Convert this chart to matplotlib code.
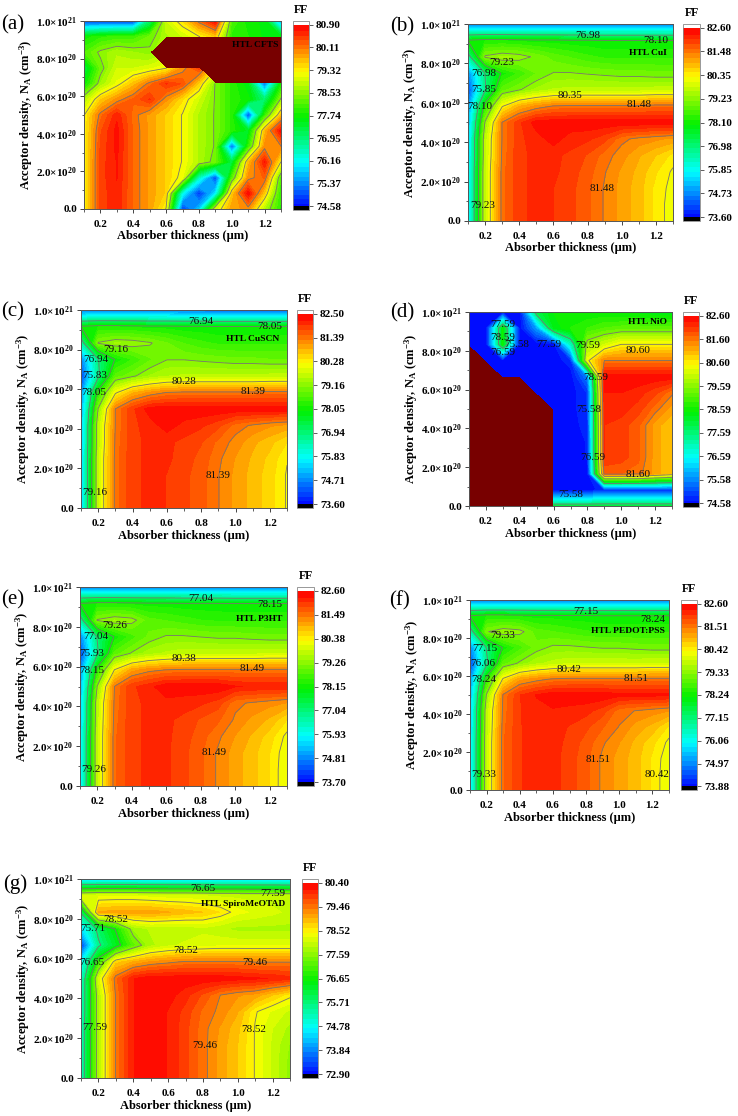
import numpy as np
import matplotlib
matplotlib.use('Agg')
import matplotlib.pyplot as plt
from matplotlib.colors import LinearSegmentedColormap

plt.rcParams['font.family'] = ['Liberation Serif', 'DejaVu Serif']
plt.rcParams['mathtext.fontset'] = 'custom'
plt.rcParams['mathtext.rm'] = 'Liberation Serif:bold'
plt.rcParams['mathtext.default'] = 'rm'

W, H = 738, 1116
nan = np.nan

thickness = [0.1, 0.2, 0.3, 0.4, 0.5, 0.6, 0.7, 0.8, 0.9, 1.0, 1.1, 1.2, 1.3]
# acceptor density in units of 1e20
density = [0.0, 0.8333, 1.6667, 2.5, 3.3333, 4.1667, 5.0, 5.8333, 6.6667, 7.5, 8.3333, 9.1667, 10.0]

# FF tables, first row is the lowest density
ff_a = [
    [79.3, 80.5, 80.7, 80.25, 79.9, 79.3, 74.9, 75.8, 79.0, 79.9, 80.0, 78.8, 78.0],
    [79.3, 80.5, 80.7, 80.25, 79.9, 79.6, 76.2, 74.9, 76.0, 79.6, 80.85, 79.6, 78.0],
    [79.3, 80.5, 80.75, 80.25, 79.9, 79.6, 79.2, 76.5, 75.0, 78.2, 80.0, 80.3, 78.2],
    [79.3, 80.5, 80.75, 80.25, 79.9, 79.6, 79.3, 78.8, 78.4, 77.3, 79.7, 80.75, 79.3],
    [79.3, 80.45, 80.8, 80.25, 79.9, 79.6, 79.3, 78.8, 78.5, 75.2, 78.0, 80.0, 80.1],
    [79.3, 80.4, 80.8, 80.25, 79.9, 79.6, 79.3, 78.8, 78.5, 78.0, 77.5, 79.7, 80.85],
    [79.3, 80.2, 80.7, 80.2, 79.9, 79.6, 79.3, 78.8, 78.5, 78.0, 75.0, 78.0, 79.7],
    [78.8, 79.6, 80.0, 80.3, 80.6, 80.0, 79.5, 79.0, 78.5, 78.0, 77.8, 77.0, 78.6],
    [77.7, 78.7, 79.2, 79.7, 80.2, 80.6, 80.4, 79.6, 78.5, 78.0, 77.6, 75.3, 77.8],
    [77.3, 78.4, 79.0, 79.0, 79.1, 79.3, 80.0, 80.5, nan, nan, nan, nan, nan],
    [78.2, 78.6, 78.8, 78.7, 78.6, nan, nan, nan, nan, nan, nan, nan, nan],
    [77.8, 78.0, 78.1, 78.1, 78.4, 78.8, 79.0, 79.3, 79.6, 78.0, 77.9, 77.7, 77.7],
    [74.9, 74.9, 74.9, 74.9, 77.0, 79.0, 79.5, 80.2, 80.88, 78.2, 77.8, 77.7, 75.5],
]
ff_b = [
    [75.4, 79.8, 81.6, 82.1, 82.2, 82.15, 82.0, 81.75, 81.45, 81.15, 80.9, 80.5, 80.2],
    [75.4, 79.8, 81.6, 82.1, 82.2, 82.15, 82.0, 81.75, 81.45, 81.15, 80.9, 80.5, 80.2],
    [75.4, 79.8, 81.6, 82.1, 82.2, 82.15, 82.0, 81.75, 81.45, 81.15, 80.9, 80.5, 80.25],
    [75.4, 79.8, 81.6, 82.1, 82.2, 82.2, 82.05, 81.8, 81.5, 81.2, 80.95, 80.6, 80.3],
    [75.3, 79.7, 81.55, 82.1, 82.2, 82.2, 82.1, 81.9, 81.6, 81.35, 81.05, 80.8, 80.5],
    [75.3, 79.7, 81.5, 82.1, 82.25, 82.5, 82.25, 82.2, 82.0, 81.55, 81.4, 81.3, 81.2],
    [75.1, 79.3, 81.5, 82.1, 82.5, 82.55, 82.55, 82.55, 82.55, 82.55, 82.55, 82.55, 82.55],
    [74.9, 78.4, 80.3, 81.0, 81.3, 81.5, 81.55, 81.55, 81.55, 81.55, 81.55, 81.6, 81.6],
    [74.2, 76.9, 78.9, 79.2, 79.5, 79.7, 79.75, 79.75, 79.75, 79.75, 79.75, 79.8, 79.8],
    [74.8, 77.0, 78.2, 78.6, 79.0, 79.25, 79.25, 79.2, 79.15, 79.1, 79.1, 79.05, 79.05],
    [76.6, 79.3, 79.5, 79.4, 79.15, 78.9, 78.75, 78.6, 78.5, 78.5, 78.5, 78.5, 78.5],
    [78.15, 78.3, 78.3, 78.25, 78.2, 78.2, 78.15, 78.15, 78.1, 78.1, 78.1, 78.1, 78.1],
    [74.6, 74.6, 74.6, 74.6, 74.6, 74.6, 74.6, 74.6, 74.6, 74.6, 74.6, 74.6, 74.6],
]
ff_c = [
    [75.3, 79.7, 81.5, 82.0, 82.1, 82.05, 81.9, 81.7, 81.4, 81.1, 80.85, 80.6, 80.25],
    [75.3, 79.7, 81.5, 82.0, 82.1, 82.05, 81.9, 81.7, 81.4, 81.1, 80.85, 80.6, 80.25],
    [75.3, 79.7, 81.5, 82.0, 82.1, 82.05, 81.9, 81.7, 81.4, 81.1, 80.85, 80.6, 80.25],
    [75.3, 79.7, 81.5, 82.0, 82.1, 82.1, 81.95, 81.75, 81.45, 81.15, 80.9, 80.65, 80.3],
    [75.2, 79.6, 81.45, 82.0, 82.1, 82.1, 82.0, 81.85, 81.55, 81.3, 81.0, 80.8, 80.5],
    [75.2, 79.6, 81.4, 82.0, 82.15, 82.4, 82.2, 82.1, 81.9, 81.5, 81.35, 81.2, 81.1],
    [75.0, 79.2, 81.4, 82.0, 82.4, 82.45, 82.45, 82.45, 82.45, 82.45, 82.45, 82.45, 82.45],
    [74.8, 78.3, 80.2, 80.9, 81.2, 81.4, 81.45, 81.45, 81.45, 81.45, 81.45, 81.5, 81.5],
    [74.1, 76.8, 78.8, 79.1, 79.4, 79.6, 79.65, 79.65, 79.65, 79.65, 79.65, 79.7, 79.7],
    [74.7, 76.9, 78.1, 78.5, 78.9, 79.15, 79.15, 79.1, 79.05, 79.0, 79.0, 78.95, 78.95],
    [76.5, 79.2, 79.4, 79.35, 79.2, 78.95, 78.7, 78.55, 78.45, 78.45, 78.45, 78.45, 78.45],
    [78.1, 78.25, 78.25, 78.2, 78.15, 78.15, 78.1, 78.1, 78.05, 78.05, 78.05, 78.05, 78.05],
    [74.5, 74.5, 74.5, 74.5, 74.5, 74.5, 74.5, 74.5, 74.5, 74.5, 74.5, 74.5, 74.5],
]
ff_d = [
    [nan, nan, nan, nan, nan, 78.0, 78.0, 78.0, 78.0, 78.0, 78.0, 78.0, 78.0],
    [nan, nan, nan, nan, nan, 74.65, 74.65, 74.65, 74.9, 74.9, 74.9, 74.9, 74.9],
    [nan, nan, nan, nan, nan, 74.65, 74.65, 74.65, 81.8, 81.8, 81.7, 81.3, 81.0],
    [nan, nan, nan, nan, nan, 74.65, 74.65, 74.8, 82.2, 82.1, 81.85, 81.3, 81.0],
    [nan, nan, nan, nan, nan, 74.65, 74.65, 74.8, 82.2, 82.1, 81.85, 81.3, 81.0],
    [nan, nan, nan, nan, nan, 74.65, 74.65, 74.9, 82.2, 82.1, 81.85, 81.3, 81.0],
    [nan, nan, nan, nan, nan, 74.65, 74.65, 75.0, 82.3, 82.3, 82.1, 81.7, 81.3],
    [nan, nan, nan, nan, 74.65, 74.65, 74.65, 75.0, 82.4, 82.4, 82.3, 82.05, 81.65],
    [nan, nan, 74.65, 74.65, 74.65, 74.65, 74.65, 75.6, 82.55, 82.55, 82.55, 82.55, 82.55],
    [nan, 74.65, 74.65, 74.65, 74.65, 74.65, 74.9, 80.5, 81.6, 81.6, 81.6, 81.6, 81.6],
    [74.65, 74.65, 78.6, 74.65, 74.65, 74.65, 77.0, 79.8, 80.2, 80.6, 80.6, 80.6, 80.6],
    [74.65, 74.65, 78.6, 74.65, 75.8, 78.4, 78.8, 79.0, 79.2, 79.3, 79.3, 79.3, 79.3],
    [74.65, 74.65, 74.65, 74.65, 78.0, 78.6, 78.6, 78.6, 78.6, 78.5, 78.5, 78.4, 78.4],
]
ff_e = [
    [75.5, 79.8, 81.65, 82.1, 82.2, 82.2, 82.0, 81.75, 81.45, 81.15, 80.9, 80.6, 80.15],
    [75.5, 79.8, 81.65, 82.1, 82.2, 82.2, 82.0, 81.75, 81.45, 81.15, 80.9, 80.6, 80.15],
    [75.5, 79.8, 81.65, 82.1, 82.2, 82.2, 82.0, 81.75, 81.45, 81.15, 80.9, 80.6, 80.2],
    [75.5, 79.8, 81.65, 82.1, 82.2, 82.2, 82.05, 81.8, 81.55, 81.25, 81.0, 80.7, 80.3],
    [75.3, 79.75, 81.6, 82.1, 82.2, 82.2, 82.1, 81.9, 81.75, 81.45, 81.2, 81.0, 80.6],
    [75.3, 79.7, 81.55, 82.1, 82.2, 82.3, 82.25, 82.2, 82.05, 81.55, 81.45, 81.35, 81.25],
    [75.1, 79.3, 81.5, 82.1, 82.3, 82.55, 82.55, 82.55, 82.55, 82.4, 82.35, 82.35, 82.35],
    [74.9, 78.4, 80.4, 81.15, 81.4, 81.5, 81.55, 81.55, 81.55, 81.55, 81.55, 81.55, 81.55],
    [74.2, 76.9, 78.9, 79.3, 79.6, 79.75, 79.85, 79.85, 79.85, 79.85, 79.85, 79.9, 79.9],
    [74.8, 77.1, 78.2, 78.7, 79.1, 79.3, 79.3, 79.25, 79.2, 79.2, 79.15, 79.1, 79.1],
    [76.6, 79.3, 79.5, 79.4, 78.9, 78.8, 78.7, 78.6, 78.55, 78.55, 78.55, 78.55, 78.55],
    [78.2, 78.35, 78.35, 78.3, 78.25, 78.25, 78.2, 78.2, 78.2, 78.15, 78.15, 78.15, 78.15],
    [74.7, 74.7, 74.7, 74.7, 74.7, 74.7, 74.7, 74.7, 74.7, 74.7, 74.7, 74.7, 74.7],
]
ff_f = [
    [75.6, 79.85, 81.7, 82.15, 82.25, 82.25, 82.05, 81.8, 81.45, 81.2, 80.95, 80.6, 80.2],
    [75.6, 79.85, 81.7, 82.15, 82.25, 82.25, 82.05, 81.8, 81.45, 81.2, 80.95, 80.6, 80.2],
    [75.6, 79.85, 81.7, 82.15, 82.25, 82.25, 82.05, 81.8, 81.45, 81.2, 80.95, 80.6, 80.25],
    [75.6, 79.85, 81.7, 82.15, 82.25, 82.25, 82.1, 81.85, 81.55, 81.3, 81.0, 80.7, 80.35],
    [75.5, 79.8, 81.65, 82.15, 82.25, 82.25, 82.15, 82.0, 81.75, 81.5, 81.2, 81.0, 80.6],
    [75.5, 79.75, 81.6, 82.15, 82.3, 82.35, 82.3, 82.25, 82.05, 81.6, 81.5, 81.4, 81.3],
    [75.3, 79.4, 81.55, 82.15, 82.4, 82.55, 82.55, 82.55, 82.55, 82.45, 82.45, 82.45, 82.45],
    [75.1, 78.5, 80.5, 81.2, 81.4, 81.55, 81.6, 81.6, 81.6, 81.6, 81.6, 81.6, 81.6],
    [74.4, 77.0, 79.0, 79.4, 79.7, 79.85, 79.95, 79.95, 79.95, 79.95, 79.95, 80.0, 80.0],
    [75.0, 77.2, 78.3, 78.8, 79.2, 79.4, 79.4, 79.35, 79.3, 79.3, 79.25, 79.2, 79.2],
    [76.7, 79.3, 79.55, 79.45, 79.0, 78.9, 78.8, 78.7, 78.65, 78.65, 78.65, 78.65, 78.65],
    [78.3, 78.45, 78.45, 78.4, 78.35, 78.35, 78.3, 78.3, 78.25, 78.25, 78.25, 78.25, 78.25],
    [74.9, 74.9, 74.9, 74.9, 74.9, 74.9, 74.9, 74.9, 74.9, 74.9, 74.9, 74.9, 74.9],
]
ff_g = [
    [75.2, 77.9, 79.5, 80.2, 80.35, 80.2, 79.9, 79.55, 79.2, 78.9, 78.5, 78.1, 77.7],
    [75.2, 77.9, 79.5, 80.2, 80.35, 80.2, 79.9, 79.55, 79.2, 78.9, 78.5, 78.1, 77.7],
    [75.2, 77.9, 79.5, 80.2, 80.35, 80.2, 79.9, 79.55, 79.2, 78.9, 78.5, 78.1, 77.75],
    [75.2, 77.9, 79.5, 80.2, 80.35, 80.2, 79.9, 79.55, 79.25, 78.95, 78.5, 78.15, 77.9],
    [75.1, 77.9, 79.5, 80.2, 80.35, 80.2, 79.95, 79.6, 79.4, 79.1, 78.55, 78.3, 78.1],
    [75.1, 77.9, 79.5, 80.2, 80.35, 80.3, 80.1, 79.8, 79.46, 79.3, 79.2, 78.9, 78.6],
    [75.0, 78.2, 79.6, 80.2, 80.35, 80.35, 80.35, 80.35, 80.35, 80.3, 80.25, 80.2, 80.1],
    [74.7, 77.0, 78.8, 79.1, 79.3, 79.4, 79.5, 79.5, 79.5, 79.5, 79.45, 79.45, 79.45],
    [73.3, 75.6, 76.4, 77.3, 77.9, 78.1, 78.2, 78.25, 78.3, 78.3, 78.3, 78.3, 78.3],
    [74.5, 75.9, 76.7, 77.8, 78.0, 78.0, 78.0, 78.1, 78.0, 77.9, 77.9, 77.9, 77.9],
    [75.8, 79.1, 79.2, 79.2, 79.2, 79.1, 79.0, 78.9, 78.7, 78.4, 78.3, 78.2, 78.1],
    [78.2, 78.3, 78.3, 78.3, 78.25, 78.2, 78.2, 78.15, 78.1, 78.1, 78.05, 78.05, 78.0],
    [74.4, 74.4, 74.4, 74.4, 74.4, 74.4, 74.4, 74.4, 74.4, 74.4, 74.4, 74.4, 74.4],
]

scale_a = [74.58, 75.37, 76.16, 76.95, 77.74, 78.53, 79.32, 80.11, 80.90]
scale_b = [73.60, 74.73, 75.85, 76.98, 78.10, 79.23, 80.35, 81.48, 82.60]
scale_c = [73.60, 74.71, 75.83, 76.94, 78.05, 79.16, 80.28, 81.39, 82.50]
scale_d = [74.58, 75.58, 76.59, 77.59, 78.59, 79.59, 80.60, 81.60, 82.60]
scale_e = [73.70, 74.81, 75.93, 77.04, 78.15, 79.26, 80.38, 81.49, 82.60]
scale_f = [73.88, 74.97, 76.06, 77.15, 78.24, 79.33, 80.42, 81.51, 82.60]
scale_g = [72.90, 73.84, 74.78, 75.71, 76.65, 77.59, 78.52, 79.46, 80.40]

lines_a = [78.53, 79.32, 80.11]
lines_b = [76.98, 78.10, 79.23, 80.35, 81.48]
lines_c = [76.94, 78.05, 79.16, 80.28, 81.39]
lines_d = [77.59, 79.59, 80.60, 81.60]
lines_e = [77.04, 78.15, 79.26, 80.38, 81.49]
lines_f = [77.15, 78.24, 79.33, 80.42, 81.51]
lines_g = [75.71, 76.65, 77.59, 78.52, 79.46]

notes_a = []
notes_b = [(0.80, 9.42, '76.98'), (1.20, 9.15, '78.10'), (0.30, 8.05, '79.23'), (0.19, 7.49, '76.98'),
           (0.19, 6.66, '75.85'), (0.17, 5.81, '78.10'), (0.70, 6.37, '80.35'), (1.10, 5.90, '81.48'),
           (0.885, 1.63, '81.48'), (0.185, 0.78, '79.23')]
notes_c = [(0.80, 9.44, '76.94'), (1.20, 9.19, '78.05'), (0.30, 8.01, '79.16'), (0.186, 7.49, '76.94'),
           (0.18, 6.68, '75.83'), (0.176, 5.83, '78.05'), (0.70, 6.41, '80.28'), (1.10, 5.90, '81.39'),
           (0.90, 1.62, '81.39'), (0.18, 0.79, '79.16')]
notes_d = [(0.30, 9.36, '77.59'), (0.30, 8.68, '78.59'), (0.38, 8.32, '75.58'), (0.30, 7.92, '76.59'),
           (0.57, 8.32, '77.59'), (0.80, 8.28, '79.59'), (1.10, 7.99, '80.60'), (0.85, 6.63, '78.59'),
           (0.81, 4.98, '75.58'), (0.83, 2.49, '76.59'), (1.10, 1.63, '81.60'), (0.70, 0.58, '75.58')]
notes_e = [(0.80, 9.41, '77.04'), (1.20, 9.11, '78.15'), (0.30, 8.06, '79.26'), (0.19, 7.49, '77.04'),
           (0.166, 6.66, '75.93'), (0.17, 5.82, '78.15'), (0.70, 6.39, '80.38'), (1.10, 5.90, '81.49'),
           (0.88, 1.66, '81.49'), (0.18, 0.84, '79.26')]
notes_f = [(0.80, 9.39, '77.15'), (1.20, 8.98, '78.24'), (0.30, 8.11, '79.33'), (0.19, 7.46, '77.15'),
           (0.18, 6.65, '76.06'), (0.18, 5.84, '78.24'), (0.70, 6.35, '80.42'), (1.10, 5.88, '81.51'),
           (0.87, 1.61, '81.51'), (1.23, 0.79, '80.42'), (0.18, 0.79, '79.33')]
notes_g = [(0.80, 9.50, '76.65'), (1.20, 9.28, '77.59'), (0.30, 7.98, '78.52'), (0.17, 7.49, '75.71'),
           (0.163, 5.82, '76.65'), (0.70, 6.40, '78.52'), (1.10, 5.82, '79.46'), (0.18, 2.56, '77.59'),
           (0.81, 1.64, '79.46'), (1.09, 2.46, '78.52')]

# letter, table, scale, contour levels, line labels, htl name and its spot, axes box and colorbar box in pixels, letter pixel
panels = [
    ('(a)', ff_a, scale_a, lines_a, notes_a, 'HTL CFTS', (1.14, 8.73), (84, 21, 281, 209), (293, 21, 309, 210), (13, 25)),
    ('(b)', ff_b, scale_b, lines_b, notes_b, 'HTL CuI', (1.155, 8.53), (468, 24, 673, 221), (683, 24, 700, 221), (402, 27)),
    ('(c)', ff_c, scale_c, lines_c, notes_c, 'HTL CuSCN', (1.10, 8.52), (81, 310, 287, 508), (297, 310, 313, 508), (13, 312)),
    ('(d)', ff_d, scale_d, lines_d, notes_d, 'HTL NiO', (1.156, 9.50), (469, 312, 672, 506), (683, 312, 699, 507), (402, 313)),
    ('(e)', ff_e, scale_e, lines_e, notes_e, 'HTL P3HT', (1.14, 8.39), (80, 587, 287, 786), (297, 587, 314, 786), (13, 600)),
    ('(f)', ff_f, scale_f, lines_f, notes_f, 'HTL PEDOT:PSS', (1.05, 8.35), (470, 600, 669, 790), (681, 600, 697, 790), (400, 601)),
    ('(g)', ff_g, scale_g, lines_g, notes_g, 'HTL SpiroMeOTAD', (1.03, 8.75), (81, 879, 290, 1078), (302, 879, 318, 1078), (15, 884)),
]

rainbow = LinearSegmentedColormap.from_list('rainbow_ff', ['#0000ff', '#00ffff', '#00f000', '#ffff00', '#ff0000'], N=256)
rainbow.set_under('black')
rainbow.set_over('white')

fig = plt.figure(figsize=(W / 100, H / 100), dpi=100)


def box(x0, y0, x1, y1):
    return [x0 / W, 1 - y1 / H, (x1 - x0) / W, (y1 - y0) / H]


for letter, table, scale, lines, notes, htl, htl_at, ax_box, cb_box, letter_at in panels:
    ax = fig.add_axes(box(*ax_box))
    ax.set_facecolor('#780000')
    z = np.ma.masked_invalid(np.array(table))
    levels = np.linspace(scale[0], scale[-1], 41)
    cf = ax.contourf(thickness, density, z, levels=levels, cmap=rainbow, extend='both')
    ax.contour(thickness, density, z, levels=lines, colors='#757570', linewidths=0.6)
    for x, y, s in notes:
        ax.text(x, y, s, fontsize=8, ha='center', va='center', color='#101010')
    ax.text(htl_at[0], htl_at[1], htl, fontsize=6.8, fontweight='bold', ha='center', va='center')

    ax.set_xlim(0.1, 1.3)
    ax.set_ylim(0, 10)
    ax.set_xticks([0.2, 0.4, 0.6, 0.8, 1.0, 1.2])
    ax.set_xticks([0.1, 0.3, 0.5, 0.7, 0.9, 1.1, 1.3], minor=True)
    ax.set_yticks([0, 2, 4, 6, 8, 10])
    ax.set_yticks([1, 3, 5, 7, 9], minor=True)
    ax.set_yticklabels(['0.0', '2.0×10$^{20}$', '4.0×10$^{20}$', '6.0×10$^{20}$', '8.0×10$^{20}$', '1.0×10$^{21}$'])
    ax.set_xticklabels(['0.2', '0.4', '0.6', '0.8', '1.0', '1.2'])
    ax.tick_params(which='major', length=3, width=0.7, labelsize=8, pad=2, color='#444444')
    ax.tick_params(axis='x', which='major', pad=5)
    ax.tick_params(which='minor', length=1.8, width=0.6, color='#444444')
    for lab in ax.get_xticklabels() + ax.get_yticklabels():
        lab.set_fontweight('bold')
    for sp in ax.spines.values():
        sp.set_color('#555555')
        sp.set_linewidth(0.7)
    ax.set_xlabel('Absorber thickness (μm)', fontsize=9, fontweight='bold', labelpad=1)
    ax.set_ylabel('Acceptor density, N$_{A}$ (cm$^{-3}$)', fontsize=9, fontweight='bold', labelpad=1)

    cax = fig.add_axes(box(*cb_box))
    cb = fig.colorbar(cf, cax=cax, extend='both', extendfrac=0.02, extendrect=True, ticks=scale, format='%.2f')
    cb.minorticks_off()
    cb.outline.set_edgecolor('#888888')
    cb.outline.set_linewidth(0.6)
    cb.solids.set_edgecolor('face')
    cax.tick_params(length=3, width=0.6, labelsize=8, pad=2, color='#444444')
    for lab in cax.get_yticklabels():
        lab.set_fontweight('bold')
    fig.text((cb_box[0] + cb_box[2]) / 2 / W, 1 - (cb_box[1] - 11) / H, 'FF', fontsize=8.5, fontweight='bold',
             ha='center', va='center')

    fig.text(letter_at[0] / W, 1 - letter_at[1] / H, letter, fontsize=15, ha='center', va='center')

fig.savefig('out.png', dpi=100)
